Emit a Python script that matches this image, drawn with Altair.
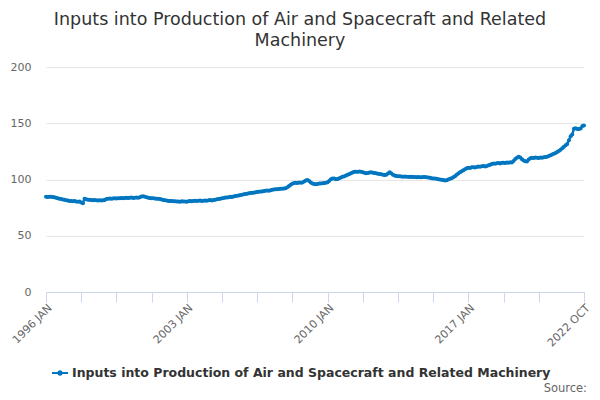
import altair as alt
import pandas as pd

# Monthly index values, 1996 JAN .. 2022 OCT
v1996 = [84.6, 84.5, 84.7, 84.6, 84.4, 84.2, 83.8, 83.4, 83.0, 82.6, 82.2, 81.9]
v1997 = [81.6, 81.3, 81.0, 80.8, 80.6, 80.9, 80.5, 80.3, 80.4, 79.5, 78.9, 83.0]
v1998 = [82.4, 82.1, 81.9, 81.7, 81.6, 81.8, 81.5, 81.4, 81.6, 81.3, 81.5, 81.7]
v1999 = [82.6, 82.9, 83.1, 83.0, 83.2, 83.3, 83.1, 83.4, 83.3, 83.6, 83.4, 83.5]
v2000 = [83.7, 83.5, 83.8, 83.9, 83.6, 83.8, 84.0, 83.7, 84.2, 84.8, 85.1, 84.6]
v2001 = [84.2, 83.8, 83.5, 83.3, 83.4, 83.1, 82.9, 83.0, 82.6, 82.2, 81.8, 81.6]
v2002 = [81.3, 81.0, 80.8, 81.0, 80.7, 80.6, 80.4, 80.5, 80.3, 80.6, 80.4, 80.5]
v2003 = [80.3, 80.6, 80.8, 80.7, 81.0, 81.2, 80.9, 81.1, 81.3, 81.0, 81.2, 81.4]
v2004 = [81.2, 81.5, 81.7, 81.4, 81.8, 82.0, 82.4, 82.7, 83.0, 83.3, 83.5, 83.9]
v2005 = [84.1, 84.3, 84.6, 84.4, 84.9, 85.3, 85.5, 85.8, 86.2, 86.4, 86.8, 87.2]
v2006 = [87.4, 87.7, 88.0, 88.3, 88.2, 88.6, 88.9, 89.1, 89.4, 89.3, 89.7, 90.0]
v2007 = [90.2, 90.1, 90.4, 90.8, 91.2, 91.4, 91.3, 91.6, 91.8, 91.7, 92.0, 92.2]
v2008 = [93.1, 94.3, 95.4, 96.3, 96.8, 97.1, 97.0, 97.3, 97.2, 97.4, 98.3, 99.2]
v2009 = [99.6, 98.6, 97.4, 96.5, 96.0, 95.8, 96.1, 96.5, 96.4, 96.7, 97.0, 97.2]
v2010 = [97.5, 98.8, 100.3, 101.0, 100.8, 100.2, 100.4, 101.2, 101.8, 102.4, 103.0, 103.6]
v2011 = [104.2, 104.8, 105.6, 106.3, 106.8, 107.0, 106.9, 107.1, 106.8, 106.5, 105.9, 105.6]
v2012 = [105.8, 106.2, 106.4, 106.1, 105.8, 105.5, 105.2, 104.9, 104.6, 104.3, 104.1, 104.3]
v2013 = [105.4, 106.4, 105.6, 104.2, 103.5, 103.2, 103.0, 102.8, 102.7, 102.5, 102.6, 102.4]
v2014 = [102.5, 102.3, 102.4, 102.2, 102.3, 102.1, 102.2, 102.0, 102.1, 102.3, 102.2, 102.0]
v2015 = [101.8, 101.5, 101.2, 101.0, 100.8, 100.6, 100.3, 100.0, 99.8, 99.5, 99.2, 99.4]
v2016 = [100.0, 100.6, 101.2, 102.0, 103.0, 104.2, 105.4, 106.5, 107.4, 108.3, 109.2, 110.0]
v2017 = [110.4, 110.2, 110.8, 111.0, 110.6, 111.2, 111.5, 111.3, 111.7, 111.9, 111.6, 112.0]
v2018 = [112.6, 113.2, 113.8, 114.2, 114.0, 114.4, 114.6, 114.3, 114.8, 115.0, 114.7, 115.1]
v2019 = [115.0, 115.4, 115.2, 116.4, 118.2, 119.4, 120.3, 119.6, 118.0, 117.0, 116.3, 116.0]
v2020 = [117.8, 119.0, 119.4, 119.2, 119.5, 119.3, 119.1, 119.6, 119.4, 119.7, 120.0, 120.3]
v2021 = [121.0, 121.6, 122.3, 123.0, 123.5, 124.5, 125.3, 126.4, 127.7, 129.2, 130.4, 131.5]
v2022 = [135.0, 138.5, 140.0, 145.2, 145.6, 145.0, 144.8, 145.3, 147.5, 148.0]

values = (v1996 + v1997 + v1998 + v1999 + v2000 + v2001 + v2002 + v2003 + v2004
          + v2005 + v2006 + v2007 + v2008 + v2009 + v2010 + v2011 + v2012 + v2013
          + v2014 + v2015 + v2016 + v2017 + v2018 + v2019 + v2020 + v2021 + v2022)

series_name = "Inputs into Production of Air and Spacecraft and Related Machinery"
title_lines = ["Inputs into Production of Air and Spacecraft and Related", "Machinery"]
labelled_months = ["1996-01", "2003-01", "2010-01", "2017-01", "2022-10"]
source_text = "Source:"

months = pd.date_range("1996-01-01", periods=len(values), freq="MS")
df = pd.DataFrame({
    "date": months.strftime("%Y-%m-%d"),
    "value": values,
    "series": series_name,
})

# ticks every 21 months plus the final month
tick_idx = list(range(0, 295, 21)) + [len(values) - 1]
tick_vals = [alt.DateTime(year=int(months[i].year), month=int(months[i].month), date=1) for i in tick_idx]

BLUE = "#0076c0"
FONT = "DejaVu Sans"

label_expr = (
    "indexof(" + str(labelled_months) + ", timeFormat(datum.value, '%Y-%m')) >= 0"
    " ? upper(timeFormat(datum.value, '%Y %b')) : ''"
)

legend_path = ("M-1,-0.13H1V0.13H-1Z "
               "M-0.34,0A0.34,0.34,0,1,1,0.34,0A0.34,0.34,0,1,1,-0.34,0Z")

base = alt.Chart(df).encode(
    x=alt.X(
        "date:T",
        title=None,
        scale=alt.Scale(
            domain=[alt.DateTime(year=1996, month=1, date=1), alt.DateTime(year=2022, month=10, date=1)],
            nice=False,
        ),
        axis=alt.Axis(
            values=tick_vals,
            labelExpr=label_expr,
            labelAngle=-45,
            labelAlign="right",
            labelBaseline="middle",
            labelPadding=4,
            labelOffset=4,
            labelFontSize=11,
            labelColor="#666666",
            labelFont=FONT,
            labelOverlap=False,
            labelFlush=False,
            domainColor="#ccd6eb",
            tickColor="#ccd6eb",
            tickSize=10,
            grid=False,
        ),
    ),
    y=alt.Y(
        "value:Q",
        title=None,
        scale=alt.Scale(domain=[0, 200], nice=False),
        axis=alt.Axis(
            values=[0, 50, 100, 150, 200],
            domain=False,
            ticks=False,
            labelPadding=15,
            labelFontSize=11,
            labelColor="#666666",
            labelFont=FONT,
            gridColor="#e6e6e6",
        ),
    ),
    color=alt.Color(
        "series:N",
        title=None,
        scale=alt.Scale(range=[BLUE]),
        legend=alt.Legend(
            orient="none",
            legendX=6,
            legendY=298,
            symbolType=legend_path,
            symbolSize=256,
            symbolFillColor=BLUE,
            symbolStrokeColor=BLUE,
            symbolStrokeWidth=0,
            labelFont=FONT,
            labelFontWeight="bold",
            labelFontSize=12.5,
            labelColor="#333333",
            labelOffset=4,
            labelLimit=0,
            padding=0,
        ),
    ),
)

line = base.mark_line(strokeWidth=2.5, point=alt.OverlayMarkDef(filled=True, size=16))

source = alt.Chart(pd.DataFrame({"t": [source_text]})).mark_text(
    align="right", baseline="middle", fontSize=11.5, color="#666666", font=FONT
).encode(x=alt.value(541), y=alt.value(322), text="t:N")

chart = alt.layer(line, source).properties(
    width=538,
    height=225,
    padding={"left": 38, "top": 59, "right": 8, "bottom": 100},
    autosize=alt.AutoSizeParams(type="none"),
    title=alt.TitleParams(
        text=title_lines,
        font=FONT,
        fontSize=17.5,
        fontWeight="normal",
        color="#333333",
        anchor="middle",
        dx=-15,
        offset=12,
        lineHeight=21,
    ),
).configure(background="white").configure_view(stroke=None)

chart.save("out.html", embed_options={"renderer": "svg", "actions": False})
